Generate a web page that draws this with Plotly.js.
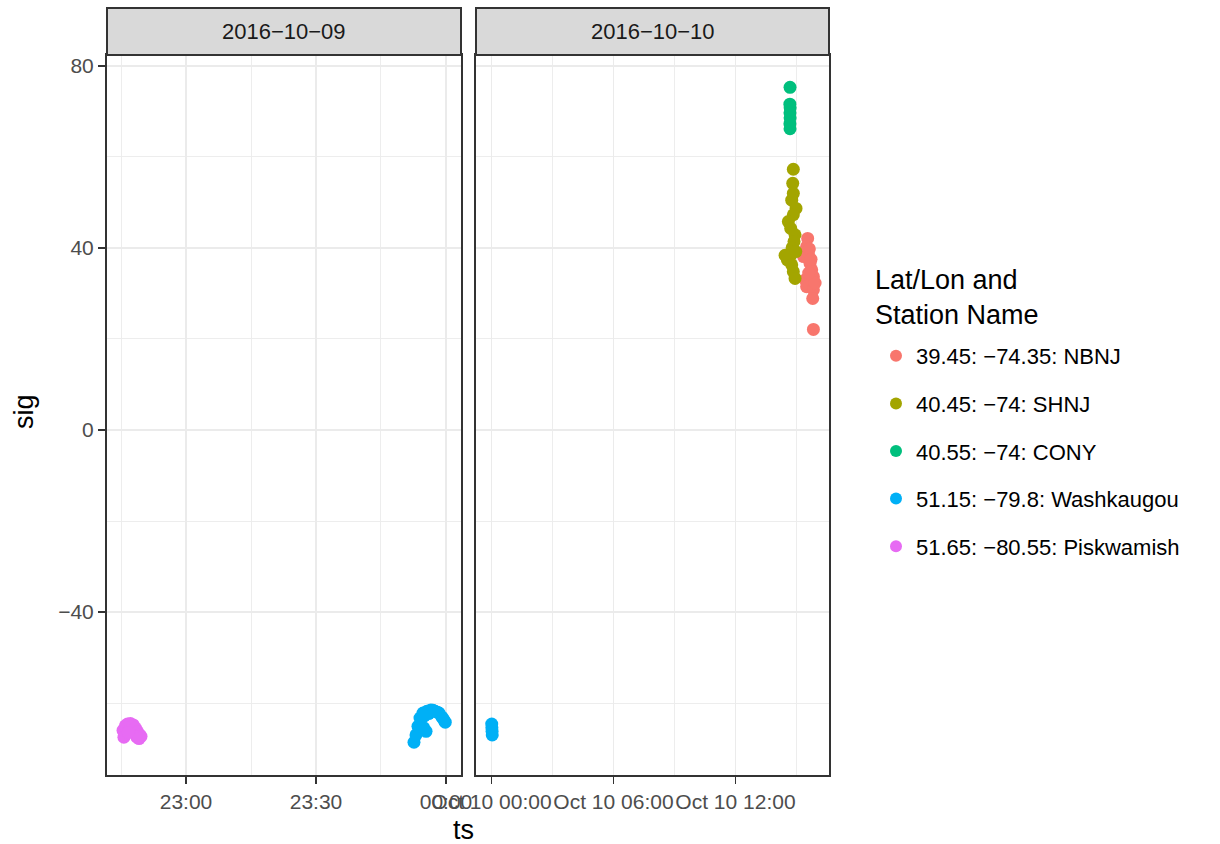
<!DOCTYPE html>
<html>
<head>
<meta charset="utf-8">
<script src="https://cdn.plot.ly/plotly-3.0.1.min.js"></script>
<style>html,body{margin:0;padding:0;background:#fff;}#chart{width:1220px;height:844px;}</style>
</head>
<body>
<div id="chart"></div>
<script>
// ---- data ----
const stationNames = [
  "39.45: \u221274.35: NBNJ",
  "40.45: \u221274: SHNJ",
  "40.55: \u221274: CONY",
  "51.15: \u221279.8: Washkaugou",
  "51.65: \u221280.55: Piskwamish"
];
const stationColors = ["#F8766D", "#A3A500", "#00BF7D", "#00B0F6", "#E76BF3"];
const facetLabels = ["2016\u221210\u221209", "2016\u221210\u221210"];
const legendTitle = "Lat/Lon and<br>Station Name";

// Panel 2016-10-09
const piskTs = ["2016-10-09 22:45:28","2016-10-09 22:45:40","2016-10-09 22:46:00","2016-10-09 22:46:30","2016-10-09 22:47:10","2016-10-09 22:47:50","2016-10-09 22:48:20","2016-10-09 22:48:50","2016-10-09 22:49:20","2016-10-09 22:49:37","2016-10-09 22:48:40","2016-10-09 22:46:40","2016-10-09 22:49:10"];
const piskSig = [-66.0,-67.5,-65.0,-64.6,-64.5,-64.8,-65.5,-66.3,-67.0,-67.3,-67.5,-66.5,-67.8];

const washTs1 = ["2016-10-09 23:52:37","2016-10-09 23:53:05","2016-10-09 23:53:32","2016-10-09 23:54:00","2016-10-09 23:54:42","2016-10-09 23:55:36","2016-10-09 23:56:32","2016-10-09 23:57:28","2016-10-09 23:58:24","2016-10-09 23:59:05","2016-10-09 23:59:50","2016-10-09 23:55:24","2016-10-09 23:54:50","2016-10-09 23:56:00","2016-10-09 23:57:00","2016-10-09 23:58:00","2016-10-09 23:59:30","2016-10-09 23:55:00"];
const washSig1 = [-68.6,-67.0,-65.1,-63.3,-62.2,-61.8,-61.5,-61.8,-62.2,-63.1,-64.2,-66.2,-65.4,-62.3,-61.6,-62.0,-63.7,-62.8];

// Panel 2016-10-10
const washTs2 = ["2016-10-10 00:00:40","2016-10-10 00:01:10","2016-10-10 00:01:40","2016-10-10 00:02:10"];
const washSig2 = [-64.6,-65.4,-66.2,-67.0];

const conyTs = ["2016-10-10 14:41:00","2016-10-10 14:40:30","2016-10-10 14:41:20","2016-10-10 14:40:50","2016-10-10 14:41:10","2016-10-10 14:40:40","2016-10-10 14:41:00"];
const conySig = [75.3,71.6,70.8,69.7,68.6,67.3,66.2];

const shnjTs = ["2016-10-10 14:50:42","2016-10-10 14:48:58","2016-10-10 14:50:42","2016-10-10 14:46:00","2016-10-10 14:58:40","2016-10-10 14:50:42","2016-10-10 14:36:00","2016-10-10 14:43:00","2016-10-10 14:55:48","2016-10-10 14:52:48","2016-10-10 14:40:48","2016-10-10 14:33:00","2016-10-10 14:26:20","2016-10-10 14:46:00","2016-10-10 14:50:42","2016-10-10 14:55:48","2016-10-10 14:47:00","2016-10-10 14:58:00"];
const shnjSig = [57.3,54.2,52.0,50.5,48.7,47.3,45.8,44.3,42.9,41.4,38.1,37.4,38.4,36.3,34.8,33.3,40.0,39.2];

const nbnjTs = ["2016-10-10 15:33:00","2016-10-10 15:30:00","2016-10-10 15:35:00","2016-10-10 15:40:00","2016-10-10 15:45:00","2016-10-10 15:50:00","2016-10-10 15:26:00","2016-10-10 15:30:00","2016-10-10 15:50:00","2016-10-10 15:48:00","2016-10-10 15:50:00","2016-10-10 15:21:00","2016-10-10 15:55:00","2016-10-10 15:38:00","2016-10-10 15:43:00","2016-10-10 15:36:00"];
const nbnjSig = [42.1,40.3,38.8,36.6,35.2,33.7,33.0,31.5,30.8,28.9,22.1,38.1,32.3,39.8,37.5,34.5];

// axis ticks
const yTickVals = [-40, 0, 40, 80];
const yMinorVals = [-60, -20, 20, 60];
const x1TickVals = ["2016-10-09 23:00","2016-10-09 23:30","2016-10-10 00:00"];
const x1TickText = ["23:00","23:30","00:00"];
const x1MinorVals = ["2016-10-09 22:45","2016-10-09 23:15","2016-10-09 23:45"];
const x1Range = ["2016-10-09 22:41:46","2016-10-10 00:03:28"];
const x2TickVals = ["2016-10-10 00:00","2016-10-10 06:00","2016-10-10 12:00"];
const x2TickText = ["Oct 10 00:00","Oct 10 06:00","Oct 10 12:00"];
const x2MinorVals = ["2016-10-10 03:00","2016-10-10 09:00","2016-10-10 15:00"];
const x2Range = ["2016-10-09 23:14:17","2016-10-10 16:36:00"];
const yRange = [-75.8, 82.4];

// ---- traces ----
const FONT = "'Liberation Sans', Arial, Helvetica, sans-serif";
const MS = 13;
function tr(x, y, idx, xa, ya, show) {
  return {
    type: "scatter", mode: "markers", x: x, y: y,
    xaxis: xa, yaxis: ya,
    name: stationNames[idx], legendgroup: "g" + idx, legendrank: idx + 1,
    showlegend: show,
    marker: {color: stationColors[idx], size: MS, line: {width: 0}},
    hoverinfo: "x+y+name"
  };
}
const data = [
  tr(nbnjTs, nbnjSig, 0, "x2", "y2", true),
  tr(shnjTs, shnjSig, 1, "x2", "y2", true),
  tr(conyTs, conySig, 2, "x2", "y2", true),
  tr(washTs1, washSig1, 3, "x", "y", true),
  tr(washTs2, washSig2, 3, "x2", "y2", false),
  tr(piskTs, piskSig, 4, "x", "y", true)
];

// ---- layout ----
const W = 1220, H = 844;
const px = v => v / W, py = v => (H - v) / H;
const xd1 = [px(107), px(461)], xd2 = [px(476), px(829)];
const yd = [py(775), py(55)];
const stripTop = py(8);

const grid = {color: "#EBEBEB", major: 1.8, minor: 0.9};
const tickFont = {family: FONT, size: 21, color: "#4D4D4D"};

function xaxisDef(dom, rng, tv, tt, mv, anchor) {
  return {
    domain: dom, type: "date", range: rng, anchor: anchor,
    tickmode: "array", tickvals: tv, ticktext: tt, tickangle: 0,
    ticks: "outside", ticklen: 7, tickwidth: 1.6, tickcolor: "#333333",
    tickfont: tickFont,
    showgrid: true, gridcolor: grid.color, gridwidth: grid.major,
    minor: {tickmode: "array", tickvals: mv, showgrid: true, gridcolor: grid.color, gridwidth: grid.minor, ticks: ""},
    showline: true, linecolor: "#333333", linewidth: 2, mirror: true,
    zeroline: false, fixedrange: true
  };
}
const yBase = {
  domain: yd, range: yRange, tickmode: "array", tickvals: yTickVals,
  showgrid: true, gridcolor: grid.color, gridwidth: grid.major,
  minor: {tickmode: "array", tickvals: yMinorVals, showgrid: true, gridcolor: grid.color, gridwidth: grid.minor, ticks: ""},
  showline: true, linecolor: "#333333", linewidth: 2, mirror: true,
  zeroline: false, fixedrange: true
};

const layout = {
  width: W, height: H,
  margin: {l: 0, r: 0, t: 0, b: 0},
  paper_bgcolor: "#FFFFFF", plot_bgcolor: "#FFFFFF",
  font: {family: FONT, color: "#000000"},
  showlegend: true,
  xaxis: xaxisDef(xd1, x1Range, x1TickVals, x1TickText, x1MinorVals, "y"),
  xaxis2: xaxisDef(xd2, x2Range, x2TickVals, x2TickText, x2MinorVals, "y2"),
  yaxis: Object.assign({}, yBase, {anchor: "x", ticks: "outside", ticklen: 7, tickwidth: 1.6, tickcolor: "#333333", tickfont: tickFont}),
  yaxis2: Object.assign({}, yBase, {anchor: "x2", matches: "y", showticklabels: false, ticks: ""}),
  legend: {
    x: px(876), y: py(335), xanchor: "left", yanchor: "top",
    traceorder: "grouped", tracegroupgap: 16,
    font: {family: FONT, size: 22, color: "#000000"},
    bgcolor: "rgba(0,0,0,0)", itemsizing: "constant"
  },
  shapes: [
    {type: "rect", xref: "paper", yref: "paper", x0: xd1[0], x1: xd1[1], y0: yd[1], y1: stripTop,
     fillcolor: "#D9D9D9", line: {color: "#333333", width: 2}, layer: "above"},
    {type: "rect", xref: "paper", yref: "paper", x0: xd2[0], x1: xd2[1], y0: yd[1], y1: stripTop,
     fillcolor: "#D9D9D9", line: {color: "#333333", width: 2}, layer: "above"}
  ],
  annotations: [
    {text: facetLabels[0], xref: "paper", yref: "paper", x: (xd1[0] + xd1[1]) / 2, y: (yd[1] + stripTop) / 2,
     showarrow: false, xanchor: "center", yanchor: "middle", font: {family: FONT, size: 22, color: "#1A1A1A"}},
    {text: facetLabels[1], xref: "paper", yref: "paper", x: (xd2[0] + xd2[1]) / 2, y: (yd[1] + stripTop) / 2,
     showarrow: false, xanchor: "center", yanchor: "middle", font: {family: FONT, size: 22, color: "#1A1A1A"}},
    {text: legendTitle, xref: "paper", yref: "paper", x: px(873), y: py(263), showarrow: false,
     xanchor: "left", yanchor: "top", align: "left", font: {family: FONT, size: 27, color: "#000000"}},
    {text: "ts", xref: "paper", yref: "paper", x: px(463), y: py(830), showarrow: false,
     xanchor: "center", yanchor: "middle", font: {family: FONT, size: 27, color: "#000000"}},
    {text: "sig", xref: "paper", yref: "paper", x: px(24), y: py(412), showarrow: false, textangle: -90,
     xanchor: "center", yanchor: "middle", font: {family: FONT, size: 27, color: "#000000"}}
  ]
};

Plotly.newPlot("chart", data, layout, {displayModeBar: false, staticPlot: true});
</script>
</body>
</html>
